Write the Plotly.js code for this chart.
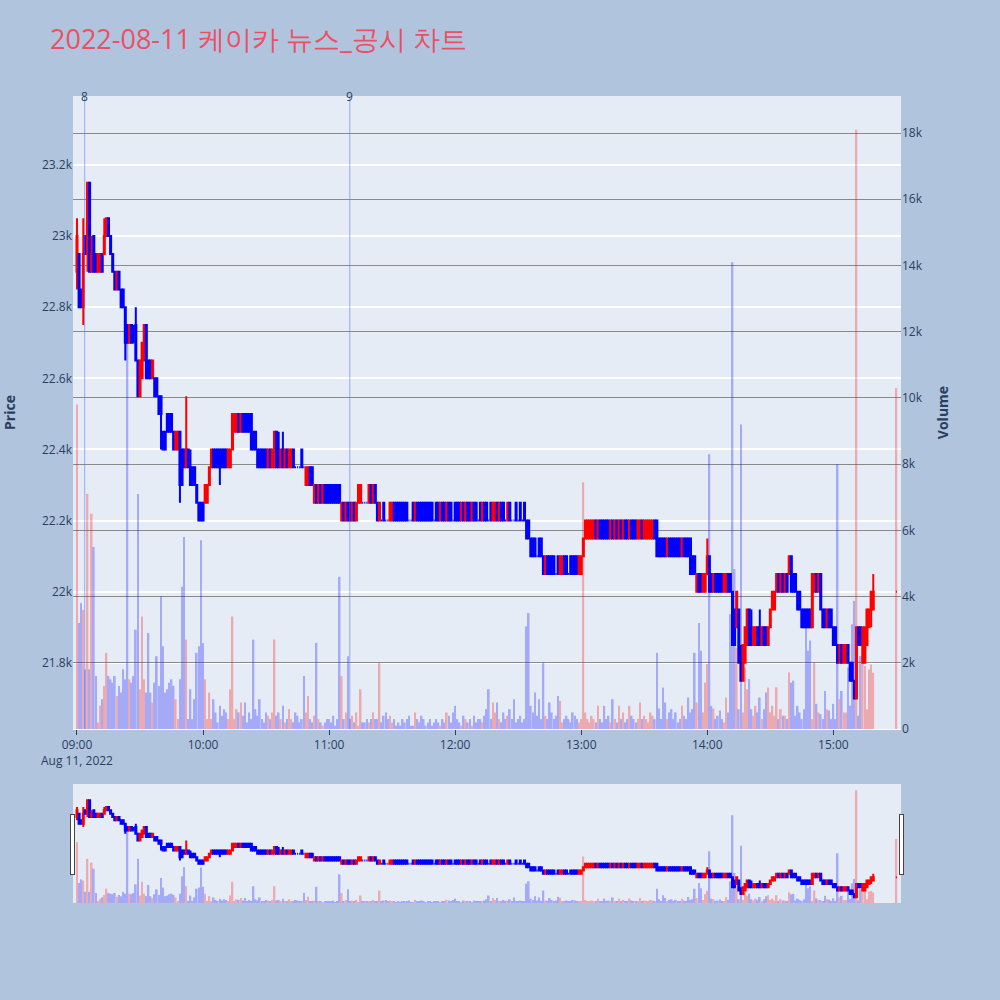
<!DOCTYPE html>
<html>
<head>
<meta charset="utf-8">
<script src="https://cdn.plot.ly/plotly-3.0.1.min.js"></script>
<style>html,body{margin:0;padding:0;background:#B0C4DE;}#chart{width:1000px;height:1000px;}</style>
</head>
<body>
<div id="chart"></div>
<script>
// ---- data (1-minute candles, 2022-08-11) ----
const sessionDate = '2022-08-11';
const sessionStart = '09:00';
const continuousMinutes = 380;      // 09:00 .. 15:19
const closingAuction = '15:30';

const openP = [
22900,22950,22850,22800,23000,22950,23150,22900,23000,22950,
22900,22900,22950,22950,23000,23050,23000,22950,22900,22850,
22900,22850,22850,22800,22750,22700,22750,22700,22750,22650,
22550,22600,22650,22750,22650,22650,22600,22600,22600,22550,
22550,22450,22450,22500,22500,22500,22450,22400,22400,22450,
22400,22400,22350,22400,22350,22350,22350,22300,22250,22250,
22250,22250,22250,22300,22350,22400,22400,22400,22400,22400,
22400,22400,22350,22350,22400,22450,22450,22500,22450,22500,
22500,22500,22500,22500,22450,22450,22400,22400,22400,22400,
22400,22350,22400,22350,22350,22450,22400,22350,22400,22350,
22400,22350,22350,22400,22350,22350,22350,22400,22350,22300,
22300,22350,22350,22250,22300,22250,22300,22250,22300,22300,
22300,22300,22300,22300,22300,22300,22200,22250,22200,22250,
22250,22200,22250,22200,22250,22250,22250,22250,22250,22250,
22300,22250,22300,22250,22200,22200,22250,22200,22200,22200,
22200,22250,22250,22250,22250,22250,22250,22250,22200,22200,
22250,22200,22250,22250,22250,22250,22250,22250,22250,22250,
22200,22250,22250,22200,22250,22250,22200,22250,22250,22200,
22250,22250,22250,22200,22250,22200,22250,22250,22200,22250,
22250,22200,22250,22200,22250,22250,22200,22250,22200,22200,
22250,22200,22250,22250,22200,22200,22250,22200,22200,22250,
22200,22250,22200,22250,22200,22200,22150,22150,22150,22100,
22150,22150,22100,22050,22100,22100,22100,22100,22050,22100,
22050,22050,22100,22100,22050,22100,22100,22100,22100,22050,
22050,22100,22150,22150,22150,22150,22150,22200,22150,22200,
22200,22200,22200,22200,22150,22200,22150,22200,22150,22200,
22150,22200,22200,22150,22200,22200,22200,22150,22150,22200,
22150,22150,22150,22150,22150,22200,22200,22150,22150,22150,
22150,22100,22150,22150,22150,22150,22150,22150,22100,22150,
22150,22150,22150,22100,22100,22000,22050,22050,22000,22000,
22050,22100,22050,22000,22050,22050,22050,22050,22000,22000,
22050,22050,22000,21950,21900,21950,21800,21750,21800,21850,
21950,21900,21850,21850,21900,21900,21850,21900,21900,21850,
21900,21950,21950,22000,22050,22000,22050,22000,22050,22050,
22100,22050,22050,22000,22000,21950,21950,21950,21950,21950,
21900,22000,22050,22000,22050,21950,21950,21900,21950,21950,
21900,21900,21850,21800,21850,21800,21800,21850,21800,21800,
21750,21700,21900,21900,21800,21800,21850,21900,21950,21950,
22000
];
const highP = [
23050,22950,22850,23050,23000,23150,23150,23000,23000,22950,
22950,22950,22950,23050,23050,23050,23000,22950,22900,22900,
22900,22850,22850,22800,22750,22750,22750,22750,22800,22650,
22650,22700,22750,22750,22650,22650,22650,22600,22600,22550,
22550,22450,22450,22500,22500,22500,22450,22450,22450,22450,
22400,22400,22550,22400,22400,22350,22350,22300,22250,22250,
22250,22300,22300,22350,22400,22400,22400,22400,22400,22400,
22400,22400,22400,22400,22500,22500,22500,22500,22500,22500,
22500,22500,22500,22500,22450,22450,22400,22400,22400,22400,
22400,22400,22400,22400,22450,22450,22450,22400,22450,22400,
22400,22400,22400,22400,22350,22350,22350,22400,22350,22350,
22350,22350,22350,22300,22300,22300,22300,22300,22300,22300,
22300,22300,22300,22300,22300,22300,22250,22250,22250,22250,
22250,22250,22250,22250,22300,22300,22250,22250,22250,22300,
22300,22300,22300,22250,22250,22200,22250,22200,22200,22250,
22250,22250,22250,22250,22250,22250,22250,22250,22200,22200,
22250,22250,22250,22250,22250,22250,22250,22250,22250,22250,
22200,22250,22250,22250,22250,22250,22250,22250,22250,22200,
22250,22250,22250,22250,22250,22250,22250,22250,22250,22250,
22250,22200,22250,22250,22250,22250,22200,22250,22250,22250,
22250,22250,22250,22250,22200,22250,22250,22200,22200,22250,
22200,22250,22200,22250,22200,22200,22150,22150,22150,22100,
22150,22150,22100,22100,22100,22100,22100,22100,22050,22100,
22100,22100,22100,22100,22050,22100,22100,22100,22100,22100,
22100,22150,22200,22200,22200,22200,22200,22200,22200,22200,
22200,22200,22200,22200,22200,22200,22200,22200,22200,22200,
22200,22200,22200,22200,22200,22200,22200,22200,22200,22200,
22200,22200,22200,22200,22200,22200,22200,22150,22150,22150,
22150,22150,22150,22150,22150,22150,22150,22150,22150,22150,
22150,22150,22150,22100,22100,22050,22050,22050,22050,22050,
22150,22100,22050,22050,22050,22050,22050,22050,22050,22050,
22050,22050,22000,21950,22000,21950,21850,21850,21900,21950,
21950,21950,21900,21900,21900,21950,21900,21900,21900,21900,
21950,22000,22000,22050,22050,22050,22050,22050,22050,22100,
22100,22050,22050,22000,22000,21950,21950,21950,21950,21950,
22050,22050,22050,22050,22050,21950,21950,21950,21950,21950,
21900,21900,21850,21850,21850,21850,21850,21850,21800,21800,
21750,21900,21900,21900,21900,21900,21950,21950,22000,22050,
22000
];
const lowP = [
22850,22800,22800,22750,22950,22900,22900,22900,22900,22900,
22900,22900,22900,22950,23000,23000,22950,22900,22850,22850,
22850,22800,22800,22650,22700,22700,22700,22700,22650,22550,
22550,22600,22650,22600,22600,22600,22600,22550,22550,22500,
22400,22400,22400,22450,22450,22450,22400,22400,22400,22250,
22300,22350,22350,22350,22300,22300,22300,22250,22200,22200,
22200,22250,22250,22300,22350,22350,22350,22350,22300,22350,
22350,22350,22350,22350,22400,22450,22450,22450,22450,22450,
22450,22450,22450,22400,22400,22400,22350,22350,22350,22350,
22350,22350,22350,22350,22350,22350,22350,22350,22350,22350,
22350,22350,22350,22350,22350,22350,22350,22350,22350,22300,
22300,22300,22300,22250,22250,22250,22250,22250,22250,22250,
22250,22250,22250,22250,22250,22250,22200,22200,22200,22200,
22200,22200,22200,22200,22250,22250,22250,22250,22250,22250,
22250,22250,22250,22200,22200,22200,22200,22200,22200,22200,
22200,22200,22200,22200,22200,22200,22200,22200,22200,22200,
22200,22200,22200,22200,22200,22200,22200,22200,22200,22200,
22200,22200,22200,22200,22200,22200,22200,22200,22200,22200,
22200,22200,22200,22200,22200,22200,22200,22200,22200,22200,
22200,22200,22200,22200,22200,22200,22200,22200,22200,22200,
22200,22200,22200,22200,22200,22200,22200,22200,22200,22200,
22200,22200,22200,22200,22150,22150,22100,22100,22100,22100,
22100,22100,22050,22050,22050,22050,22050,22050,22050,22050,
22050,22050,22050,22050,22050,22050,22050,22050,22050,22050,
22050,22100,22150,22150,22150,22150,22150,22150,22150,22150,
22150,22150,22150,22150,22150,22150,22150,22150,22150,22150,
22150,22150,22150,22150,22150,22150,22150,22150,22150,22150,
22150,22150,22150,22150,22150,22150,22100,22100,22100,22100,
22100,22100,22100,22100,22100,22100,22100,22100,22100,22100,
22100,22100,22050,22050,22050,22000,22000,22000,22000,22000,
22050,22000,22000,22000,22000,22000,22000,22000,22000,22000,
22000,22000,21850,21850,21900,21800,21750,21750,21800,21850,
21850,21850,21850,21850,21850,21850,21850,21850,21850,21850,
21900,21950,21950,22000,22000,22000,22000,22000,22000,22050,
22000,22000,22000,21950,21950,21900,21900,21900,21900,21900,
21900,22000,22000,22000,21950,21900,21900,21900,21900,21900,
21850,21850,21800,21800,21800,21800,21800,21800,21750,21750,
21700,21700,21850,21850,21800,21800,21850,21900,21900,21950,
22000
];
const closeP = [
23000,22800,22800,22950,22950,23150,22900,22950,22900,22900,
22950,22950,22900,23000,23050,23000,22950,22900,22850,22900,
22850,22800,22800,22700,22700,22750,22700,22700,22650,22550,
22650,22700,22750,22600,22600,22600,22650,22550,22550,22500,
22500,22400,22400,22450,22450,22450,22400,22450,22450,22300,
22300,22350,22400,22350,22300,22300,22300,22250,22200,22200,
22200,22300,22300,22350,22400,22350,22350,22350,22350,22350,
22350,22350,22400,22400,22500,22500,22500,22450,22500,22450,
22450,22450,22450,22400,22400,22400,22350,22350,22350,22350,
22350,22400,22350,22400,22450,22350,22350,22400,22350,22400,
22350,22400,22400,22350,22350,22350,22350,22350,22350,22350,
22350,22300,22300,22300,22250,22300,22250,22300,22250,22250,
22250,22250,22250,22250,22250,22250,22250,22200,22250,22200,
22200,22250,22200,22250,22300,22300,22250,22250,22250,22300,
22250,22300,22250,22200,22250,22200,22200,22200,22200,22250,
22250,22200,22200,22200,22200,22200,22200,22200,22200,22200,
22200,22250,22200,22200,22200,22200,22200,22200,22200,22200,
22200,22200,22200,22250,22200,22200,22250,22200,22200,22200,
22200,22200,22200,22250,22200,22250,22200,22200,22250,22200,
22200,22200,22200,22250,22200,22200,22200,22200,22250,22250,
22200,22250,22200,22200,22200,22250,22200,22200,22200,22200,
22200,22200,22200,22200,22150,22150,22100,22100,22100,22100,
22100,22100,22050,22100,22050,22050,22050,22050,22050,22050,
22100,22100,22050,22050,22050,22050,22050,22050,22050,22100,
22100,22150,22200,22200,22200,22200,22200,22150,22200,22150,
22150,22150,22150,22150,22200,22150,22200,22150,22200,22150,
22200,22150,22150,22200,22150,22150,22150,22200,22200,22150,
22200,22200,22200,22200,22200,22150,22100,22100,22100,22100,
22100,22150,22100,22100,22100,22100,22100,22100,22150,22100,
22100,22100,22050,22050,22050,22050,22000,22000,22050,22050,
22100,22000,22000,22050,22000,22000,22000,22000,22050,22050,
22000,22000,21850,21850,22000,21800,21750,21850,21900,21950,
21850,21850,21900,21900,21850,21850,21900,21850,21850,21900,
21950,22000,22000,22050,22000,22050,22000,22050,22000,22100,
22000,22000,22000,21950,21950,21900,21900,21900,21900,21900,
22050,22050,22000,22050,21950,21900,21900,21950,21900,21900,
21850,21850,21800,21850,21800,21850,21850,21800,21750,21750,
21700,21900,21850,21850,21900,21900,21950,21950,22000,22000,
22000
];
const volume = [
9800,3200,3800,3600,1800,7100,1800,6500,5500,1600,
200,700,900,1300,2300,1600,1500,1400,1600,1000,
1300,1100,1800,1500,12000,1500,1400,1600,3000,7100,
1200,3400,1500,1100,2900,1100,800,1400,2200,1300,
4000,2500,1100,1200,1400,1500,1300,900,300,1500,
4300,5800,2700,300,1200,300,900,2300,2500,5700,
2600,1500,300,1100,300,900,500,200,700,400,
600,500,300,1200,3400,300,600,500,800,400,
800,200,500,300,2700,600,400,900,300,200,
500,400,300,500,2700,400,500,300,700,200,
300,600,300,200,500,400,200,300,1600,500,
1000,300,200,400,2600,300,200,100,200,300,
300,200,400,100,300,4600,1600,300,500,2200,
300,400,200,500,100,1200,200,200,300,200,
300,500,300,300,2000,200,400,500,300,400,
200,300,100,200,100,300,200,300,400,100,
100,500,300,200,400,300,100,200,300,100,
200,300,200,100,300,200,500,400,200,500,
700,300,200,100,400,300,200,300,100,400,
200,300,300,200,400,600,1200,300,800,500,
800,300,200,500,300,400,600,300,900,200,
300,400,200,300,3100,3500,700,500,1100,400,
900,300,2000,400,300,800,500,300,400,1000,
850,200,300,400,300,200,500,400,300,200,
300,7450,500,300,200,400,300,200,700,300,
200,700,300,400,200,900,300,200,700,300,
500,200,300,700,400,300,200,300,800,300,
400,300,200,500,400,300,2300,620,300,1250,
800,300,500,600,300,500,200,300,700,400,
300,950,500,600,2300,800,3200,2360,500,1400,
1960,8300,700,620,300,400,560,300,200,950,
500,3470,14100,4830,2460,600,9200,500,1860,1200,
1510,600,400,700,500,950,300,600,1100,1250,
500,700,400,1260,300,600,400,400,300,1710,
1400,1460,400,700,500,300,600,3160,2360,2670,
300,2010,760,500,450,300,1150,600,560,300,
760,300,8000,900,1150,500,500,1860,700,3160,
3870,18100,400,2200,2100,1900,600,1800,1950,1700,
10300
];
// news / disclosure markers
const newsTimes = ['2022-08-11 09:03:40', '2022-08-11 11:09:50'];
const newsLabels = ['8', '9'];

// ---- build time axis ----
function pad(n){ return (n < 10 ? '0' : '') + n; }
const times = [];
const [h0, m0] = sessionStart.split(':').map(Number);
for (let i = 0; i < continuousMinutes; i++) {
  const tot = h0 * 60 + m0 + i;
  times.push(sessionDate + ' ' + pad(Math.floor(tot / 60)) + ':' + pad(tot % 60));
}
times.push(sessionDate + ' ' + closingAuction);

// direction per bar (same rule as candlestick: ties follow previous close)
const volColors = [];
let inc = true, cPrev = null;
for (let i = 0; i < closeP.length; i++) {
  const o = openP[i], c = closeP[i];
  if (c === o) { if (cPrev !== null && c !== cPrev) inc = c > cPrev; }
  else inc = c > o;
  cPrev = c;
  volColors.push(inc ? 'red' : 'blue');
}

const candle = {
  type: 'candlestick', x: times, open: openP, high: highP, low: lowP, close: closeP,
  xaxis: 'x', yaxis: 'y', name: 'Price',
  increasing: {line: {color: 'red', width: 2}, fillcolor: 'red'},
  decreasing: {line: {color: 'blue', width: 2}, fillcolor: 'blue'},
  showlegend: false
};
const bars = {
  type: 'bar', x: times, y: volume, xaxis: 'x', yaxis: 'y2', name: 'Volume',
  marker: {color: volColors, line: {width: 0}}, opacity: 0.28, showlegend: false
};

const shapes = newsTimes.map(t => ({
  type: 'line', xref: 'x', yref: 'paper', x0: t, x1: t, y0: 0, y1: 1,
  line: {color: 'rgba(90,115,235,0.55)', width: 1}
}));
const annotations = newsTimes.map((t, i) => ({
  xref: 'x', yref: 'paper', x: t, y: 1, text: newsLabels[i], showarrow: false,
  xanchor: 'center', yanchor: 'middle', font: {size: 12, color: '#2a3f5f'}
}));

const layout = {
  width: 1000, height: 1000,
  paper_bgcolor: '#B0C4DE', plot_bgcolor: '#E5ECF6',
  font: {family: '"Open Sans", verdana, arial, sans-serif', color: '#2a3f5f', size: 12},
  title: {text: '2022-08-11 케이카 뉴스_공시 차트', x: 0.05, xanchor: 'left', y: 0.96, yanchor: 'middle',
          font: {size: 27, color: '#EB5064'}},
  margin: {l: 73, r: 99, t: 96, b: 97},
  showlegend: false,
  bargap: 0.2,
  xaxis: {
    type: 'date',
    range: ['2022-08-11 08:58:06', '2022-08-11 15:32:12'],
    showgrid: false, linecolor: 'white', tickcolor: '#2a3f5f',
    rangeslider: {visible: true, thickness: 0.148, bgcolor: '#E5ECF6', borderwidth: 0}
  },
  yaxis: {
    title: {text: '<b>Price</b>', font: {size: 14}, standoff: 30},
    range: [21614, 23394], gridcolor: 'white', gridwidth: 2, zeroline: false, side: 'left'
  },
  yaxis2: {
    title: {text: '<b>Volume</b>', font: {size: 14}, standoff: 16},
    overlaying: 'y', side: 'right', range: [0, 19120], dtick: 2000,
    showgrid: true, gridcolor: '#8a8a8a', gridwidth: 1, zeroline: false
  },
  shapes: shapes,
  annotations: annotations
};

Plotly.newPlot('chart', [candle, bars], layout, {displayModeBar: false, responsive: false});
</script>
</body>
</html>
